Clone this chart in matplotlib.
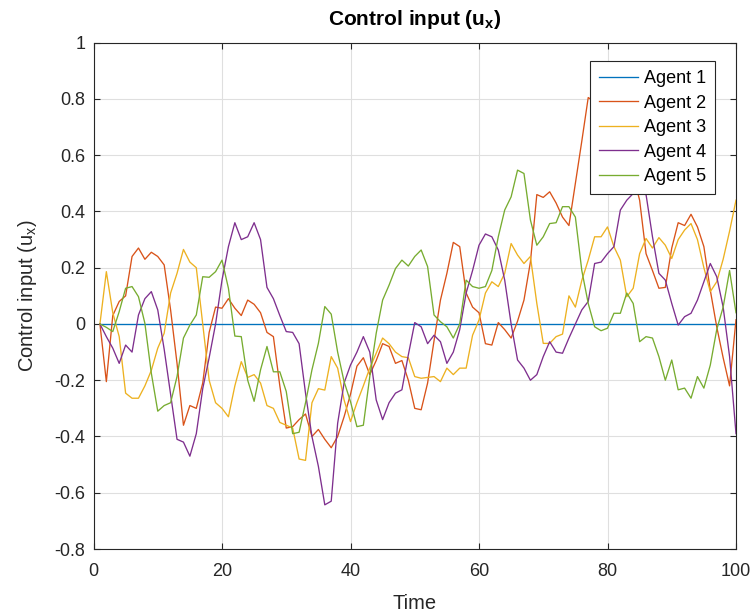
import numpy as np
import matplotlib
matplotlib.use("Agg")
import matplotlib.pyplot as plt
from matplotlib.ticker import FuncFormatter

plt.rcParams['font.family'] = ['Liberation Sans', 'DejaVu Sans']

time = list(range(1, 101))
labels = ["Agent 1", "Agent 2", "Agent 3", "Agent 4", "Agent 5"]
colors = ["#0072BD", "#D95319", "#EDB120", "#7E2F8E", "#77AC30"]

agent1 = [0.0] * 100

agent2 = [0, -0.205, 0.03, 0.08, 0.10, 0.24, 0.27, 0.23, 0.255, 0.24,
          0.21, 0.05, -0.14, -0.36, -0.29, -0.30, -0.21, -0.03, 0.06, 0.056,
          0.09, 0.056, 0.03, 0.085, 0.07, 0.04, -0.03, -0.045, -0.22, -0.37,
          -0.365, -0.34, -0.32, -0.40, -0.375, -0.41, -0.44, -0.40, -0.33, -0.25,
          -0.15, -0.12, -0.18, -0.13, -0.07, -0.08, -0.14, -0.13, -0.20, -0.30,
          -0.305, -0.21, -0.06, 0.085, 0.18, 0.29, 0.275, 0.11, 0.06, 0.04,
          -0.07, -0.075, 0.005, -0.02, -0.05, 0.01, 0.085, 0.22, 0.46, 0.45,
          0.47, 0.43, 0.38, 0.35, 0.50, 0.65, 0.805, 0.79, 0.76, 0.72,
          0.69, 0.65, 0.60, 0.53, 0.44, 0.25, 0.19, 0.127, 0.13, 0.27,
          0.36, 0.35, 0.39, 0.345, 0.275, 0.12, -0.01, -0.12, -0.22, 0.015]

agent3 = [0, 0.186, 0.04, -0.045, -0.246, -0.264, -0.264, -0.22, -0.165, -0.086,
          -0.033, 0.11, 0.18, 0.265, 0.22, 0.20, 0.0, -0.20, -0.28, -0.30,
          -0.33, -0.22, -0.134, -0.19, -0.18, -0.21, -0.29, -0.30, -0.35, -0.36,
          -0.37, -0.48, -0.485, -0.28, -0.23, -0.235, -0.116, -0.157, -0.27, -0.347,
          -0.28, -0.22, -0.157, -0.104, -0.05, -0.07, -0.10, -0.116, -0.12, -0.187,
          -0.193, -0.19, -0.187, -0.205, -0.157, -0.18, -0.157, -0.157, -0.04, 0.014,
          0.11, 0.15, 0.133, 0.18, 0.286, 0.245, 0.215, 0.24, 0.073, -0.069,
          -0.069, -0.045, -0.036, 0.10, 0.06, 0.155, 0.227, 0.31, 0.31, 0.345,
          0.275, 0.227, 0.097, 0.127, 0.25, 0.304, 0.27, 0.307, 0.28, 0.233,
          0.30, 0.334, 0.357, 0.30, 0.20, 0.115, 0.15, 0.23, 0.33, 0.44]

agent4 = [0, -0.045, -0.086, -0.14, -0.075, -0.10, 0.032, 0.09, 0.115, 0.05,
          -0.09, -0.25, -0.41, -0.42, -0.47, -0.39, -0.23, -0.12, 0.0, 0.156,
          0.275, 0.36, 0.30, 0.31, 0.36, 0.30, 0.13, 0.09, 0.03, -0.027,
          -0.03, -0.07, -0.246, -0.40, -0.506, -0.643, -0.63, -0.353, -0.21, -0.146,
          -0.10, -0.045, -0.10, -0.27, -0.34, -0.28, -0.246, -0.234, -0.11, 0.005,
          -0.01, -0.07, -0.04, -0.063, -0.14, -0.10, -0.02, 0.11, 0.19, 0.28,
          0.32, 0.31, 0.263, 0.156, 0.0, -0.128, -0.157, -0.20, -0.18, -0.116,
          -0.063, -0.10, -0.104, -0.05, 0.0, 0.05, 0.08, 0.215, 0.22, 0.25,
          0.275, 0.405, 0.44, 0.464, 0.464, 0.46, 0.31, 0.18, 0.156, 0.073,
          -0.004, 0.026, 0.038, 0.085, 0.15, 0.215, 0.168, 0.06, -0.116, -0.39]

agent5 = [0, -0.012, -0.027, 0.044, 0.127, 0.133, 0.097, 0.002, -0.175, -0.31,
          -0.29, -0.28, -0.187, -0.05, -0.004, 0.032, 0.168, 0.166, 0.186, 0.227,
          0.127, -0.043, -0.045, -0.20, -0.275, -0.163, -0.08, -0.17, -0.17, -0.24,
          -0.39, -0.385, -0.28, -0.163, -0.069, 0.062, 0.035, -0.10, -0.205, -0.276,
          -0.365, -0.36, -0.187, -0.033, 0.085, 0.138, 0.197, 0.227, 0.206, 0.24,
          0.263, 0.204, 0.032, 0.008, -0.01, -0.05, 0.0, 0.156, 0.133, 0.127,
          0.133, 0.19, 0.31, 0.405, 0.452, 0.547, 0.535, 0.37, 0.28, 0.31,
          0.357, 0.36, 0.417, 0.417, 0.38, 0.19, 0.073, -0.01, -0.024, -0.015,
          0.038, 0.038, 0.11, 0.073, -0.063, -0.045, -0.05, -0.116, -0.20, -0.128,
          -0.234, -0.228, -0.264, -0.187, -0.228, -0.146, -0.02, 0.06, 0.19, 0.04]

series = [agent1, agent2, agent3, agent4, agent5]

xticks = [0, 20, 40, 60, 80, 100]
yticks = [-0.8, -0.6, -0.4, -0.2, 0, 0.2, 0.4, 0.6, 0.8, 1]

fig = plt.figure(figsize=(7.55, 6.15), dpi=100)
ax = fig.add_axes([93.5 / 755, 1 - 549 / 615, (736 - 93.5) / 755, (549 - 42.7) / 615])

for data, lab, col in zip(series, labels, colors):
    ax.plot(time, data, color=col, lw=0.95, label=lab, zorder=3)

ax.set_xlim(0, 100)
ax.set_ylim(-0.8, 1)
ax.set_xticks(xticks)
ax.set_yticks(yticks)
ax.xaxis.set_major_formatter(FuncFormatter(lambda v, p: f"{round(v, 6):g}"))
ax.yaxis.set_major_formatter(FuncFormatter(lambda v, p: f"{round(v, 6):g}"))

tc = "#262626"
ax.tick_params(direction="in", length=4, width=0.8, colors=tc, labelsize=13,
               top=True, right=True, labelcolor=tc)
ax.tick_params(axis="x", pad=10)
ax.tick_params(axis="y", pad=6)
for s in ax.spines.values():
    s.set_color(tc)
    s.set_linewidth(0.8)
ax.grid(True, color="#dfdfdf", linewidth=0.8, zorder=0)
ax.set_axisbelow(True)

ax.set_title("Control input (u$_\\mathregular{x}$)", fontsize=15, fontweight="bold",
             color="black", pad=13)
ax.set_xlabel("Time", fontsize=14.5, color=tc, labelpad=10)
ax.set_ylabel("Control input (u$_\\mathregular{x}$)", fontsize=14.5, color=tc, labelpad=11)

leg = ax.legend(loc="upper right", bbox_to_anchor=(715 / 755, 1 - 61 / 615),
                bbox_transform=fig.transFigure, fontsize=13, frameon=True,
                fancybox=False, framealpha=1, edgecolor="#262626",
                handlelength=2.15, handletextpad=0.35, borderpad=0.5, labelspacing=0.42,
                borderaxespad=0)
leg.get_frame().set_linewidth(0.8)

fig.savefig("out.png", dpi=100)
